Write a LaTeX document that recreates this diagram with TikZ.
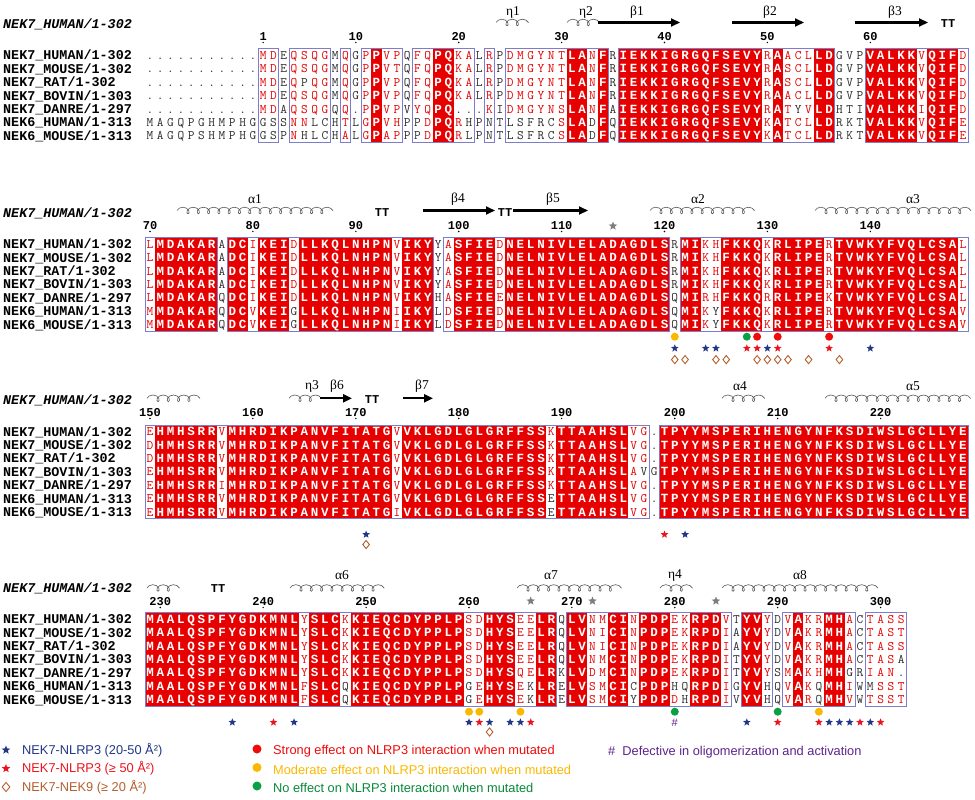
\documentclass[tikz,border=0pt]{standalone}
\usepackage{fontspec}
\usepackage{tikz}
\usetikzlibrary{arrows.meta,decorations.pathmorphing,shapes.geometric}

\newfontfamily\ssfont{Liberation Serif}
\newfontfamily\legfont{Liberation Sans}
\newfontfamily\monofam{Liberation Mono}

\definecolor{espred}{RGB}{230,0,0}
\definecolor{txtgrey}{RGB}{45,45,45}
\definecolor{framebl}{RGB}{125,125,205}
\definecolor{coilgrey}{RGB}{85,85,85}
\definecolor{stargrey}{RGB}{125,125,125}
\definecolor{starblue}{RGB}{35,55,135}
\definecolor{starred}{RGB}{235,20,30}
\definecolor{diabrown}{RGB}{180,95,45}
\definecolor{dotred}{RGB}{240,10,10}
\definecolor{dotorange}{RGB}{250,185,0}
\definecolor{dotgreen}{RGB}{10,160,70}
\definecolor{hashpurple}{RGB}{95,35,140}

\def\xo{150}
\def\cw{10.29}
\def\rh{13.4}
\newcommand\resfontbase{\ttfamily\fontsize{13}{13}\selectfont}
\newcommand\monob{\monofam\bfseries}

\makeatletter
\newcount\colcnt
\newcount\runstart
\newcount\dgcnt
\def\clsS{S}\def\clsB{B}\def\clsN{-}
\def\chkred#1#2#3{\ifnum\uccode`#1=`#1\relax #2\else #3\fi}
% frame round one run of conserved columns
\newcommand\seqframe{%
  \draw[frame] ({\xo+(\the\runstart-0.5)*\cw},{\yo-0.5*\rh}) rectangle ({\xo+(\the\colcnt-0.5)*\cw},{\yo+6.5*\rh});}
% column classes: S identical, B similar, - none
\newcommand\setcols[1]{%
  \colcnt=0 \runstart=-1
  \@tfor\cl:=#1\do{%
    \expandafter\let\csname cls@\the\colcnt\endcsname\cl
    \ifx\cl\clsN
      \ifnum\runstart>-1\relax\seqframe\fi
      \runstart=-1
    \else
      \ifnum\runstart<0\relax\runstart=\colcnt\fi
      \ifx\cl\clsS
        \fill[espred] ({\xo+(\the\colcnt-0.5)*\cw},{\yo-0.5*\rh}) rectangle ({\xo+(\the\colcnt+0.5)*\cw},{\yo+6.5*\rh});%
      \fi
    \fi
    \advance\colcnt by 1\relax}%
  \ifnum\runstart>-1\relax\seqframe\fi}
% one sequence line, lower case = black letter in a similar column
\newcommand\seqrow[3]{%
  \colcnt=0
  \@tfor\ch:=#3\do{%
    \expandafter\let\expandafter\cc\csname cls@\the\colcnt\endcsname
    \def\resfont{}\def\rescol{txtgrey}%
    \ifx\cc\clsS
      \def\rescol{white}\def\resfont{\monob\fontsize{12.5}{12.5}\selectfont}%
    \else\ifx\cc\clsB
      \expandafter\chkred\ch{\def\rescol{espred}}{}%
    \fi\fi
    \node[res, text=\rescol, font=\resfontbase\resfont] (r#1-#2-\the\colcnt) at ({\xo+\the\colcnt*\cw},{\yo+#2*\rh}) {\uppercase\expandafter{\ch}};%
    \advance\colcnt by 1\relax}}
% ruler number, last digit over column #2
\newcommand\rulnum[3]{%
  \dgcnt=0 \@tfor\dg:=#3\do{\advance\dgcnt by 1\relax}%
  \advance\dgcnt by -1\relax
  \@tfor\dg:=#3\do{%
    \node[rul] (n#1-#2-\the\dgcnt) at ({\xo+(#2-\the\dgcnt)*\cw},\yr) {\dg};%
    \advance\dgcnt by -1\relax}%
  \node[ruldot] (d#1-#2) at ({\xo+#2*\cw},{\yr+5.5}) {};}
\makeatother

\newcommand\seqnames[1]{%
  \node[seqtitle] (t#1) at (3,{\yo-31.5}) {NEK7\_HUMAN/1-302};
  \foreach \nm [count=\k from 0] in {NEK7\_HUMAN/1-302,NEK7\_MOUSE/1-302,NEK7\_RAT/1-302,NEK7\_BOVIN/1-303,NEK7\_DANRE/1-297,NEK6\_HUMAN/1-313,NEK6\_MOUSE/1-313}
    \node[seqname] (nm#1-\k) at (3,{\yo+\k*\rh}) {\nm};}
\newcommand\annrow[4]{%
  \foreach \c in {#3} \node[#1] (#4-\c) at ({\xo+\c*\cw},#2) {};}
% helix of about #2 turns starting at x=#1
\newcommand\helixrun[3]{\draw[helixc] (#1,#3) -- ({#1+(#2-0.5)*\cw+6.9},#3);}

\begin{document}
\begin{tikzpicture}[x=1pt, y=-1pt,
  res/.style={inner sep=0pt, text height=7.9pt, text depth=0pt},
  frame/.style={draw=framebl, line width=0.7pt},
  seqname/.style={anchor=west, inner sep=0pt, font=\monob\fontsize{13.4}{13.4}\selectfont, text height=8.6pt, text depth=0pt},
  seqtitle/.style={seqname, font=\monob\itshape\fontsize{13.4}{13.4}\selectfont},
  rul/.style={inner sep=0pt, font=\monob\fontsize{12}{12}\selectfont, text height=7.6pt, text depth=0pt},
  ruldot/.style={circle, fill=black, inner sep=0pt, minimum size=1.6pt},
  turn/.style={inner sep=0pt, font=\monob\fontsize{12}{12}\selectfont, text height=7.6pt, text depth=0pt},
  sslab/.style={inner sep=0pt, font=\ssfont\fontsize{13.5}{13.5}\selectfont},
  helixc/.style={draw=coilgrey, line width=0.6pt, decorate, decoration={coil, aspect=1, segment length=10.29pt, amplitude=3.3pt}},
  strand/.style={line width=2.2pt, -{Triangle[length=9pt, width=8pt]}},
  gstar/.style={star, star points=5, star point ratio=2.3, fill=stargrey, inner sep=0pt, minimum size=9pt},
  bstar/.style={star, star points=5, star point ratio=2.3, fill=starblue, inner sep=0pt, minimum size=8pt},
  rstar/.style={bstar, fill=starred},
  ndia/.style={diamond, draw=diabrown, line width=0.9pt, inner sep=0pt, minimum width=7pt, minimum height=8.5pt},
  rdot/.style={circle, fill=dotred, inner sep=0pt, minimum size=8pt},
  odot/.style={rdot, fill=dotorange},
  gdot/.style={rdot, fill=dotgreen},
  legtext/.style={anchor=west, inner sep=0pt, font=\legfont\fontsize{12.8}{12.8}\selectfont},
]
\useasboundingbox (0,0) rectangle (975,800);
\fill[white] (0,0) rectangle (975,800);

% ---- block 1
\def\yo{55.5}\def\yr{37}
\setcols{---------- -BB-BBBB-B -BSBB-BBSS BB-B-BBBBB BSSBS-SSSS SSSSSSSSSS BSBBBSS--- SSSSSBSSSB}
\seqnames{1}
\seqrow{1}{0}{.......... .MDEQSQGMQ GPPVPQFQPQ KALRPDMGYN TLANFRIEKK IGRGQFSEVY RAACLLDGVP VALKKVQIFD}
\seqrow{1}{1}{.......... .MDEQSQGMQ GPPVTQFQPQ KALRPDMGYN TLANFRIEKK IGRGQFSEVY RASCLLDGVP VALKKVQIFD}
\seqrow{1}{2}{.......... .MDEQpQGMQ GPPVPQFQPQ KALRPDMGYN TLANFRIEKK IGRGQFSEVY RASCLLDGVP VALKKVQIFD}
\seqrow{1}{3}{.......... .MDEQSQGMQ GPPVPQFQPQ KALRPDMGYN TLANFRIEKK IGRGQFSEVY RAACLLDGVP VALKKVQIFD}
\seqrow{1}{4}{.......... .MDAQSQGQQ .PPVPVYQPQ ...KIDMGYN SLANFAIEKK IGRGQFSEVY RATyVLDHTI VALKKIQIFD}
\seqrow{1}{5}{MAGQPGHMPH GgsSNNlcHT LGPVHPpDPQ RhPnTlsfrc SLAdFQIEKK IGRGQFSEVY KATCLLDRKT VALKKVQIFE}
\seqrow{1}{6}{MAGQPSHMPH GgsPNhlcHA LGPAPPpDPQ RlPnTlsfrc SLAdFQIEKK IGRGQFSEVY KATCLLDRKT VALKKVQIFE}
\foreach \n/\c in {1/11,10/20,20/30,30/40,40/50,50/60,60/70} {\rulnum{1}{\c}{\n}}
\helixrun{496}{3}{22.5}
\node[sslab] (eta1) at (513,12) {η1};
\helixrun{567}{3}{22.5}
\node[sslab] (eta2) at (586,12) {η2};
\draw[strand] (598,22.5) -- (680,22.5);
\node[sslab] (beta1) at (637,12) {β1};
\draw[strand] (732,22.5) -- (804,22.5);
\node[sslab] (beta2) at (770,12) {β2};
\draw[strand] (855,22.5) -- (928,22.5);
\node[sslab] (beta3) at (895,12) {β3};
\node[turn] (tt1) at (948,24) {TT};

% ---- block 2
\def\yo{244.3}\def\yr{226}
\setcols{BSSSSSS-SS BSSSBSSSSS SSSSBSSS-B SSSSBSSSSS SSSSSSSSSS S-SSBBSSSS BSSSSSBSSS SSSSSSSSSB}
\seqnames{2}
\seqrow{2}{0}{LMDAKARADC IKEIDLLKQL NHPNVIKYYA SFIEDNELNI VLELADAGDL SRMIKHFKKQ KRLIPERTVW KYFVQLCSAL}
\seqrow{2}{1}{LMDAKARADC IKEIDLLKQL NHPNVIKYYA SFIEDNELNI VLELADAGDL SRMIKHFKKQ KRLIPERTVW KYFVQLCSAL}
\seqrow{2}{2}{LMDAKARADC IKEIDLLKQL NHPNVIKYYA SFIEDNELNI VLELADAGDL SRMIKHFKKQ KRLIPERTVW KYFVQLCSAL}
\seqrow{2}{3}{LMDAKARADC IKEIDLLKQL NHPNVIKYYA SFIEDNELNI VLELADAGDL SRMIKHFKKQ KRLIPERTVW KYFVQLCSAL}
\seqrow{2}{4}{LMDAKARQDC IKEIDLLKQL NHPNVIKYHA SFIEENELNI VLELADAGDL SQMIRHFKKQ RRLIPEKTVW KYFVQLCSAL}
\seqrow{2}{5}{MMDAKARQDC VKEIgLLKQL NHPNIIKYLD SFIEDNELNI VLELADAGDL SQMIKyFKKQ KRLIPERTVW KYFVQLCSAV}
\seqrow{2}{6}{MMDAKARQDC VKEIgLLKQL NHPNIIKYLD SFIEDNELNI VLELADAGDL SQMIKyFKKQ KRLIPERTVW KYFVQLCSAV}
\foreach \n/\c in {70/0,80/10,90/20,100/30,110/40,120/50,130/60,140/70} {\rulnum{2}{\c}{\n}}
\helixrun{177}{15}{210.5}
\node[sslab] (alpha1) at (255,199.5) {α1};
\node[turn] (tt2) at (382,213) {TT};
\draw[strand] (423,210.5) -- (495,210.5);
\node[sslab] (beta4) at (458,199.5) {β4};
\node[turn] (tt3) at (505,213) {TT};
\draw[strand] (513,210.5) -- (588,210.5);
\node[sslab] (beta5) at (553,199.5) {β5};
\node[gstar] (gs1) at (613,226) {};
\helixrun{650}{10}{210.5}
\node[sslab] (alpha2) at (698,199.5) {α2};
\helixrun{815}{15}{210.5}
\node[sslab] (alpha3) at (913,199.5) {α3};
\annrow{odot}{336.7}{51}{o2}
\annrow{gdot}{336.7}{58}{g2}
\annrow{rdot}{336.7}{59,61,66}{c2}
\annrow{bstar}{348.3}{51,54,55,60,70}{bs2}
\annrow{rstar}{348.3}{58,59,61,66}{rs2}
\annrow{ndia}{359.6}{51,52,55,56,59,60,61,62,64,67}{nd2}

% ---- block 3
\def\yo{431.7}\def\yr{413}
\setcols{BSSSSSSBSS SSSSSSSSSS SSSSBSSSSS SSSSSSSSSB SSSSSSSBB- SSSSSSSSSS SSSSSSSSSS SSSSSSSSSS}
\seqnames{3}
\seqrow{3}{0}{EHMHSRRVMH RDIKPANVFI TATGVVKLGD LGLGRFFSSK TTAAHSLVG. TPYYMSPERI HENGYNFKSD IWSLGCLLYE}
\seqrow{3}{1}{DHMHSRRVMH RDIKPANVFI TATGVVKLGD LGLGRFFSSK TTAAHSLVG. TPYYMSPERI HENGYNFKSD IWSLGCLLYE}
\seqrow{3}{2}{DHMHSRRVMH RDIKPANVFI TATGVVKLGD LGLGRFFSSK TTAAHSLVG. TPYYMSPERI HENGYNFKSD IWSLGCLLYE}
\seqrow{3}{3}{EHMHSRRVMH RDIKPANVFI TATGVVKLGD LGLGRFFSSK TTAAHSLAvG TPYYMSPERI HENGYNFKSD IWSLGCLLYE}
\seqrow{3}{4}{EHMHSRRIMH RDIKPANVFI TATGVVKLGD LGLGRFFSSK TTAAHSLVG. TPYYMSPERI HENGYNFKSD IWSLGCLLYE}
\seqrow{3}{5}{EHMHSRRVMH RDIKPANVFI TATGVVKLGD LGLGRFFSSe TTAAHSLVG. TPYYMSPERI HENGYNFKSD IWSLGCLLYE}
\seqrow{3}{6}{EHMHSRRVMH RDIKPANVFI TATGIVKLGD LGLGRFFSSe TTAAHSLVG. TPYYMSPERI HENGYNFKSD IWSLGCLLYE}
\foreach \n/\c in {150/0,160/10,170/20,180/30,190/40,200/51,210/61,220/71} {\rulnum{3}{\c}{\n}}
\helixrun{147}{5}{398.3}
\helixrun{289}{3}{398.3}
\node[sslab] (eta3) at (312,386) {η3};
\draw[strand] (320,398.3) -- (352,398.3);
\node[sslab] (beta6) at (337,386) {β6};
\node[turn] (tt4) at (372,400) {TT};
\draw[strand] (403,398.3) -- (433,398.3);
\node[sslab] (beta7) at (422,386) {β7};
\helixrun{722}{4}{398.3}
\node[sslab] (alpha4) at (740,386.5) {α4};
\helixrun{825}{14}{398.3}
\node[sslab] (alpha5) at (913,386.5) {α5};
\annrow{bstar}{534.5}{21,52}{bs3}
\annrow{rstar}{534.5}{50}{rs3}
\annrow{ndia}{544.5}{21}{nd3}

% ---- block 4
\def\yo{619.3}\def\yr{602}
\setcols{SSSSSSSSSS SSSSSBSSSB SSSSSSSSSS SBBSSSBBSS -SSBBSSBSS SBBSSSB-SS B-BSBBSSB- BBBB}
\seqnames{4}
\seqrow{4}{0}{MAALQSPFYG DKMNLYSLCK KIEQCDYPPL PSDHYSEELR QLVNMCINPD PEKRPDVTYV YDVAKRMHAC TASS}
\seqrow{4}{1}{MAALQSPFYG DKMNLYSLCK KIEQCDYPPL PSDHYSEELR QLVNICINPD PEKRPDIAYV YDVAKRMHAC TAST}
\seqrow{4}{2}{MAALQSPFYG DKMNLYSLCK KIEQCDYPPL PSDHYSEELR QLVNICINPD PEKRPDIAYV YDVAKRMHAC TASS}
\seqrow{4}{3}{MAALQSPFYG DKMNLYSLCK KIEQCDYPPL PSDHYSEELR QLVNMCINPD PEKRPDITYV YDVAKRMHAC TASa}
\seqrow{4}{4}{MAALQSPFYG DKMNLYSLCK KIEQCDYPPL PSDHYSQELR KLVDMCINPD PEKRPDITYV YSMAKHMHgR IAN.}
\seqrow{4}{5}{MAALQSPFYG DKMNLFSLCq KIEQCDYPPL PgEHYSEkLR ELVSMCIcPD PhqRPDIGYV hQVAKqMHIW mSST}
\seqrow{4}{6}{MAALQSPFYG DKMNLFSLCq KIEQCDYPPL PgEHYSEkLR ELVSMCIyPD PDhRPDIVYV hQVARqMHVW TSST}
\foreach \n/\c in {230/1,240/11,250/21,260/31,270/41,280/51,290/61,300/71} {\rulnum{4}{\c}{\n}}
\helixrun{147}{3}{588}
\node[turn] (tt5) at (218,589) {TT};
\helixrun{290}{9}{588}
\node[sslab] (alpha6) at (342,575.5) {α6};
\helixrun{517}{10}{588}
\node[sslab] (alpha7) at (551,575.5) {α7};
\helixrun{660}{3}{588}
\node[sslab] (eta4) at (675,575.5) {η4};
\helixrun{722}{15}{588}
\node[sslab] (alpha8) at (800,575.5) {α8};
\annrow{gstar}{601}{37,43,55}{gs4}
\annrow{odot}{711.7}{31,32,36,65}{o4}
\annrow{gdot}{711.7}{51,61}{g4}
\annrow{bstar}{722.3}{8,14,31,33,35,36,58,66,67,68,70}{bs4}
\annrow{rstar}{722.3}{12,32,37,61,65,69,71}{rs4}
\node[inner sep=0pt, text=hashpurple, font=\legfont\fontsize{11}{11}\selectfont] (hash4) at ({\xo+51*\cw},722.3) {\#};
\annrow{ndia}{732}{33}{nd4}

% ---- legend
\node[bstar, minimum size=9pt] (k1) at (6,750) {};
\node[legtext, text=starblue] (l1) at (22,750) {NEK7-NLRP3 (20-50 Å²)};
\node[rstar, minimum size=9pt] (k2) at (6,768.5) {};
\node[legtext, text=starred] (l2) at (22,768.5) {NEK7-NLRP3 (≥ 50 Å²)};
\node[ndia, minimum width=8pt, minimum height=9.5pt] (k3) at (6,787) {};
\node[legtext, text=diabrown] (l3) at (22,787) {NEK7-NEK9 (≥ 20 Å²)};
\node[rdot, minimum size=9pt] (k4) at (257,749) {};
\node[legtext, text=dotred] (l4) at (273,751) {Strong effect on NLRP3 interaction when mutated};
\node[odot, minimum size=9pt] (k5) at (257,767.5) {};
\node[legtext, text=dotorange] (l5) at (273,769.5) {Moderate effect on NLRP3 interaction when mutated};
\node[gdot, minimum size=9pt] (k6) at (257,786) {};
\node[legtext, text=dotgreen!85!black] (l6) at (273,788) {No effect on NLRP3 interaction when mutated};
\node[legtext, text=hashpurple] (l7) at (608,752) {\#\ \ Defective in oligomerization and activation};
\end{tikzpicture}
\end{document}
